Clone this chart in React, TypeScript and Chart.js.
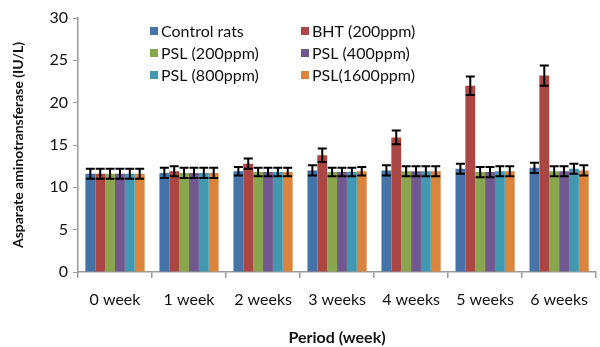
import React, { useEffect, useRef } from "react";
import { Chart, registerables } from "chart.js";

Chart.register(...registerables);

const categories = ["0 week", "1 week", "2 weeks", "3 weeks", "4 weeks", "5 weeks", "6 weeks"];
const seriesNames = ["Control rats", "BHT (200ppm)", "PSL (200ppm)", "PSL (400ppm)", "PSL (800ppm)", "PSL(1600ppm)"];
const colors = ["#4573A7", "#AA4644", "#89A54E", "#71588F", "#4198AF", "#DB843D"];

const controlRats = [11.6, 11.7, 11.9, 12.0, 12.0, 12.2, 12.3];
const bht200 = [11.6, 11.9, 12.8, 13.8, 15.9, 22.0, 23.2];
const psl200 = [11.6, 11.7, 11.8, 11.8, 11.9, 11.8, 11.9];
const psl400 = [11.6, 11.7, 11.8, 11.8, 11.9, 11.8, 11.9];
const psl800 = [11.6, 11.7, 11.8, 11.8, 11.9, 11.9, 12.2];
const psl1600 = [11.6, 11.7, 11.8, 11.9, 11.9, 11.9, 12.0];

const controlErr = [0.6, 0.6, 0.5, 0.6, 0.6, 0.6, 0.6];
const bhtErr = [0.6, 0.6, 0.6, 0.8, 0.8, 1.1, 1.2];
const psl200Err = [0.6, 0.6, 0.5, 0.5, 0.6, 0.6, 0.6];
const psl400Err = [0.6, 0.6, 0.5, 0.5, 0.6, 0.6, 0.6];
const psl800Err = [0.6, 0.6, 0.5, 0.5, 0.6, 0.6, 0.6];
const psl1600Err = [0.6, 0.6, 0.5, 0.5, 0.6, 0.6, 0.6];

const yTicks = [0, 5, 10, 15, 20, 25, 30];

const seriesValues = [controlRats, bht200, psl200, psl400, psl800, psl1600];
const seriesErrors = [controlErr, bhtErr, psl200Err, psl400Err, psl800Err, psl1600Err];

const FONT = "Lato, 'Open Sans', sans-serif";

const errorBarPlugin = {
  id: "errorBars",
  afterDatasetsDraw(chart: any) {
    const ctx = chart.ctx;
    const yScale = chart.scales.y;
    ctx.save();
    ctx.strokeStyle = "#000";
    ctx.lineWidth = 2;
    chart.data.datasets.forEach((ds: any, i: number) => {
      const meta = chart.getDatasetMeta(i);
      meta.data.forEach((bar: any, j: number) => {
        const v = ds.data[j];
        const e = seriesErrors[i][j];
        const x = bar.x;
        const yTop = yScale.getPixelForValue(v + e);
        const yBot = yScale.getPixelForValue(v - e);
        const cap = 4.5;
        ctx.beginPath();
        ctx.moveTo(x, yTop);
        ctx.lineTo(x, yBot);
        ctx.moveTo(x - cap, yTop);
        ctx.lineTo(x + cap, yTop);
        ctx.moveTo(x - cap, yBot);
        ctx.lineTo(x + cap, yBot);
        ctx.stroke();
      });
    });
    ctx.restore();
  },
};

const legendPlugin = {
  id: "insideLegend",
  afterDraw(chart: any) {
    const ctx = chart.ctx;
    ctx.save();
    ctx.font = `16px ${FONT}`;
    ctx.textBaseline = "middle";
    ctx.textAlign = "left";
    const cols = [150, 301];
    const rows = [31, 53, 75];
    chart.data.datasets.forEach((ds: any, i: number) => {
      const x = cols[i % 2];
      const y = rows[Math.floor(i / 2)];
      ctx.fillStyle = ds.backgroundColor;
      ctx.fillRect(x, y - 4, 8, 8);
      ctx.fillStyle = "#111";
      ctx.fillText(ds.label, x + 11, y + 1);
    });
    ctx.restore();
  },
};

export default function App() {
  const ref = useRef<HTMLCanvasElement>(null);
  useEffect(() => {
    document.body.style.margin = "0";
    const chart = new Chart(ref.current as HTMLCanvasElement, {
      type: "bar",
      data: {
        labels: categories,
        datasets: seriesNames.map((name, i) => ({
          label: name,
          data: seriesValues[i],
          backgroundColor: colors[i],
          borderWidth: 0,
          categoryPercentage: 0.8,
          barPercentage: 1.0,
        })),
      },
      options: {
        animation: false,
        responsive: false,
        layout: { padding: { top: 18, right: -4, left: 0, bottom: 0 } },
        plugins: {
          legend: { display: false },
          tooltip: { enabled: false },
        },
        scales: {
          x: {
            grid: {
              display: true,
              drawOnChartArea: false,
              drawTicks: true,
              tickLength: 6,
              offset: true,
              color: "#9a9a9a",
              lineWidth: 1.5,
            },
            border: { display: true, color: "#9a9a9a", width: 1.5 },
            ticks: {
              color: "#111",
              font: { family: FONT, size: 16 },
              padding: 12,
              maxRotation: 0,
            },
            title: {
              display: true,
              text: "Period (week)",
              color: "#111",
              font: { family: FONT, size: 16, weight: "bold" },
              padding: { top: 8, bottom: 0 },
            },
            afterFit(scale: any) {
              scale.height = 75;
            },
          },
          y: {
            min: 0,
            max: 30,
            afterBuildTicks(scale: any) {
              scale.ticks = yTicks.map((v) => ({ value: v }));
            },
            grid: {
              display: true,
              drawOnChartArea: false,
              drawTicks: true,
              tickLength: 5,
              color: "#9a9a9a",
            },
            border: { display: true, color: "#9a9a9a", width: 1.5 },
            ticks: {
              color: "#111",
              font: { family: FONT, size: 16 },
              padding: 5,
            },
            title: {
              display: true,
              text: "Asparate aminotransferase (IU/L)",
              color: "#111",
              font: { family: FONT, size: 14, weight: "bold" },
              padding: { top: 10, bottom: 4 },
            },
            afterFit(scale: any) {
              scale.width = 78;
            },
          },
        },
      },
      plugins: [errorBarPlugin, legendPlugin],
    });
    return () => chart.destroy();
  }, []);
  return <canvas ref={ref} width={600} height={347} style={{ display: "block" }} />;
}
